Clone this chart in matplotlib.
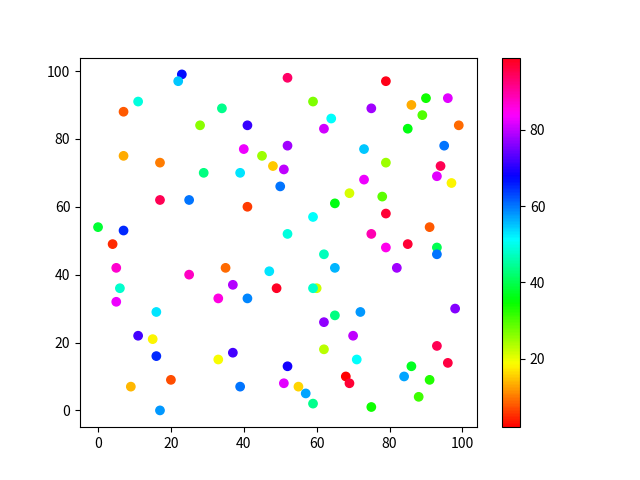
import matplotlib
matplotlib.use("Agg")
import matplotlib.pyplot as plt

plt.rcParams['font.family'] = ['Noto Sans CJK SC', 'DejaVu Sans']

x = [23, 22, 11, 7, 28, 34, 7, 17, 29, 52,
     59, 41, 64, 62, 40, 52, 45, 48, 51, 39,
     50, 79, 90, 96, 75, 86, 89, 99, 85, 95,
     73, 79, 94, 93, 73, 97, 17, 25, 0, 7,
     4, 5, 25, 6, 5, 16, 41, 65, 69, 59,
     52, 62, 65, 35, 47, 37, 49, 60, 59, 33,
     41, 78, 79, 91, 75, 85, 93, 93, 79, 82,
     72, 98, 11, 15, 16, 20, 9, 17, 33, 65,
     62, 37, 62, 52, 39, 51, 55, 57, 59, 68,
     69, 70, 71, 93, 96, 86, 84, 91, 88, 75]
y = [99, 97, 91, 88, 84, 89, 75, 73, 70, 98,
     91, 84, 86, 83, 77, 78, 75, 72, 71, 70,
     66, 97, 92, 92, 89, 90, 87, 84, 83, 78,
     77, 73, 72, 69, 68, 67, 62, 62, 54, 53,
     49, 42, 40, 36, 32, 29, 60, 61, 64, 57,
     52, 46, 42, 42, 41, 37, 36, 36, 36, 33,
     33, 63, 58, 54, 52, 49, 48, 46, 48, 42,
     29, 30, 22, 21, 16, 9, 7, 0, 15, 28,
     26, 17, 18, 13, 7, 8, 7, 5, 2, 10,
     8, 22, 15, 19, 14, 13, 10, 9, 4, 1]
c = [67, 55, 49, 8, 26, 44, 13, 10, 43, 94,
     27, 71, 51, 81, 83, 78, 25, 15, 80, 53,
     60, 99, 34, 82, 78, 13, 30, 9, 36, 60,
     55, 25, 95, 82, 83, 18, 95, 60, 38, 65,
     5, 87, 88, 48, 83, 53, 6, 36, 21, 51,
     49, 47, 56, 9, 53, 79, 98, 22, 48, 86,
     59, 29, 97, 8, 89, 97, 40, 60, 85, 78,
     58, 76, 72, 18, 65, 7, 14, 58, 19, 43,
     77, 72, 23, 69, 60, 82, 16, 57, 44, 2,
     97, 80, 51, 95, 96, 37, 57, 33, 31, 34]

fig, ax = plt.subplots(figsize=(6.4, 4.8), dpi=100)
sc = ax.scatter(x, y, c=c, cmap='hsv')
fig.colorbar(sc, ax=ax)
fig.savefig('out.png', dpi=100)
